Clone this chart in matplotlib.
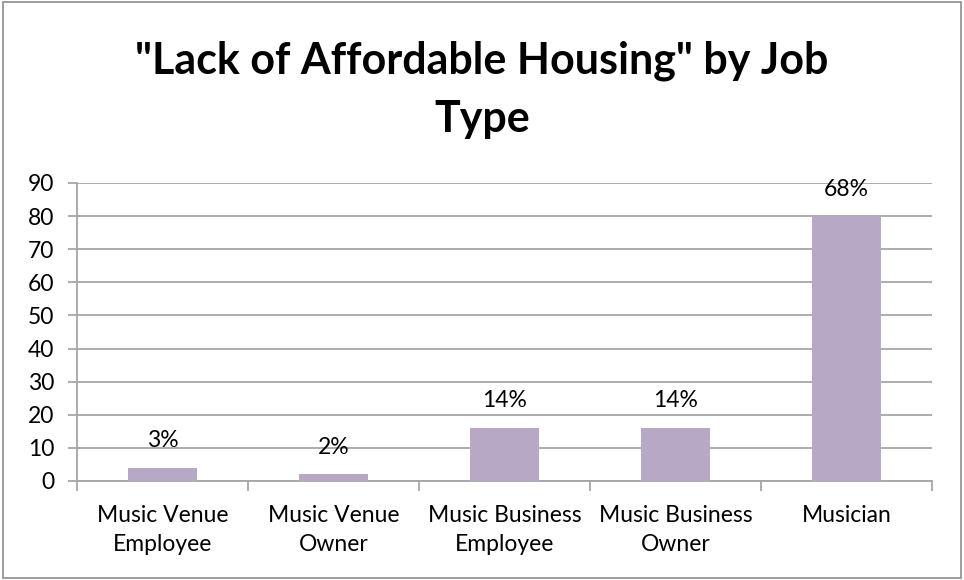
import matplotlib
matplotlib.use('Agg')
import matplotlib.pyplot as plt
import matplotlib.patches as patches

categories = ['Music Venue\nEmployee', 'Music Venue\nOwner', 'Music Business\nEmployee',
              'Music Business\nOwner', 'Musician']
values = [4, 2, 16, 16, 80]
pct_labels = ['3%', '2%', '14%', '14%', '68%']

plt.rcParams['font.family'] = ['Lato', 'DejaVu Sans']

fig = plt.figure(figsize=(9.64, 5.8), dpi=100)
ax = fig.add_axes([0.0799, 0.1707, 0.8869, 0.5138])

bar_color = '#B7A9C6'
grid_color = '#A6A6A6'

x = range(len(categories))
ax.bar(x, values, width=0.4, color=bar_color, zorder=3)

for i, (v, lab) in enumerate(zip(values, pct_labels)):
    ax.annotate(lab, (i, v), xytext=(0, 19.5), textcoords='offset points',
                ha='center', va='center', fontsize=16.5, color='black', zorder=4)

ax.set_xlim(-0.5, len(categories) - 0.5)
ax.set_ylim(0, 90)
ax.set_yticks(range(0, 91, 10))
ax.yaxis.grid(True, color=grid_color, linewidth=1.3, zorder=0)
ax.set_axisbelow(True)

# category labels at centres, tick marks at boundaries
ax.set_xticks(list(x))
ax.set_xticklabels(categories, fontsize=16.5, linespacing=1.5)
ax.tick_params(axis='x', length=0, pad=17)
ax.set_xticks([i - 0.5 for i in range(len(categories) + 1)], minor=True)
ax.tick_params(axis='x', which='minor', length=7, width=1.3, color=grid_color)
ax.tick_params(axis='y', length=6.5, width=1.3, color=grid_color, labelsize=16.5, pad=10)

for side in ['top', 'right']:
    ax.spines[side].set_visible(False)
for side in ['left', 'bottom']:
    ax.spines[side].set_color(grid_color)
    ax.spines[side].set_linewidth(1.3)

fig.text(0.5, 0.845, '"Lack of Affordable Housing" by Job\nType', ha='center', va='center',
         fontsize=31, fontweight='bold', linespacing=1.55)

fig.patches.append(patches.Rectangle((0.003, 0.004), 0.994, 0.992, transform=fig.transFigure,
                                     fill=False, edgecolor='#8C8C8C', linewidth=1.2))

fig.savefig('out.png', dpi=100)
